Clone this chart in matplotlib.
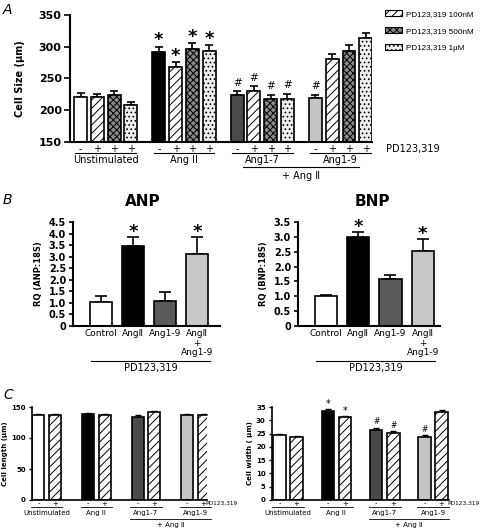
import numpy as np
import matplotlib.pyplot as plt
from matplotlib.patches import Patch
from matplotlib.lines import Line2D

# ---- data -------------------------------------------------------------
groups_a = ["Unstimulated", "Ang II", "Ang1-7", "Ang1-9"]
signs_a = ["-", "+", "+", "+"]
legend_a = ["PD123,319 100nM", "PD123,319 500nM", "PD123,319 1µM"]
cell_size = [[221, 221, 224, 208],
             [291, 268, 296, 294],
             [224, 231, 217, 218],
             [220, 281, 294, 313]]
cell_size_err = [[6, 5, 6.5, 5],
                 [9, 8, 10, 8],
                 [6, 7, 7, 8],
                 [4, 8, 9, 8]]
star_a = [[0, 0, 0, 0], [1, 1, 1, 1], [0, 0, 0, 0], [0, 0, 0, 0]]
hash_a = [[0, 0, 0, 0], [0, 0, 0, 0], [1, 1, 1, 1], [1, 0, 0, 0]]

cats_b = ["Control", "AngⅡ", "Ang1-9", "AngⅡ\n+\nAng1-9"]
anp = [1.02, 3.45, 1.09, 3.13]
anp_err = [0.26, 0.38, 0.36, 0.73]
bnp = [1.01, 2.98, 1.57, 2.53]
bnp_err = [0.04, 0.20, 0.16, 0.40]
star_b = [0, 1, 0, 1]
anp_ticks = [0, 0.5, 1.0, 1.5, 2.0, 2.5, 3.0, 3.5, 4.0, 4.5]
anp_ticklabels = ["0", "0.5", "1.0", "1.5", "2.0", "2.5", "3.0", "3.5", "4.0", "4.5"]
bnp_ticks = [0, 0.5, 1.0, 1.5, 2.0, 2.5, 3.0, 3.5]
bnp_ticklabels = ["0", "0.5", "1.0", "1.5", "2.0", "2.5", "3.0", "3.5"]

groups_c = ["Unstimulated", "Ang II", "Ang1-7", "Ang1-9"]
signs_c = ["-", "+"]
cell_length = [[137.5, 136.5], [138, 136.5], [134.5, 141.5], [136.5, 136.5]]
cell_length_err = [[2, 2], [2, 2], [2.5, 2], [2, 2]]
cell_width = [[24.4, 23.6], [33.5, 31.2], [26.5, 25.2], [23.8, 33.2]]
cell_width_err = [[0.6, 0.5], [0.6, 0.5], [0.7, 0.6], [0.5, 0.6]]
star_length = [[0, 0], [0, 0], [0, 0], [0, 0]]
hash_length = [[0, 0], [0, 0], [0, 0], [0, 0]]
star_width = [[0, 0], [1, 1], [0, 0], [0, 0]]
hash_width = [[0, 0], [0, 0], [1, 1], [1, 0]]

# ---- styles -----------------------------------------------------------
W, H = 480, 530
first_colors = ["white", "black", "#4a4a4a", "#c4c4c4"]
treat_styles = [dict(facecolor="white", hatch="////"),
                dict(facecolor="#8a8a8a", hatch="xxxxx"),
                dict(facecolor="#eeeeee", hatch="....")]
plt.rcParams["hatch.linewidth"] = 0.7
plt.rcParams["font.family"] = ["DejaVu Sans"]


def px_axes(fig, left, top, right, bottom):
    return fig.add_axes([left / W, 1 - bottom / H, (right - left) / W, (bottom - top) / H])


def style_axes(ax, lw=1.5, labelsize=8, ticklen=4):
    for s in ["top", "right"]:
        ax.spines[s].set_visible(False)
    for s in ["left", "bottom"]:
        ax.spines[s].set_linewidth(lw)
    ax.set_xticks([])
    ax.tick_params(axis="y", direction="out", length=ticklen, width=lw * 0.8,
                   labelsize=labelsize, pad=2)
    for lbl in ax.get_yticklabels():
        lbl.set_fontweight("bold")


def up_err(ax, x, y, e, cap=3, lw=1.2):
    ax.errorbar(x, y, yerr=[np.zeros(len(e)), e], fmt="none", ecolor="black",
                elinewidth=lw, capsize=cap, capthick=lw, zorder=1)


def mark(ax, x, y, s, size, off):
    ax.annotate(s, (x, y), xytext=(0, off), textcoords="offset points",
                ha="center", va="baseline", fontsize=size, fontweight="bold",
                annotation_clip=False)


def yf(py, top, bottom):
    return (bottom - py) / (bottom - top)


fig = plt.figure(figsize=(W / 100, H / 100), dpi=100)

# ---- panel A ----------------------------------------------------------
t, b = 15, 142
axA = px_axes(fig, 70, t, 372, b)
gap_a = 4.66
for g in range(4):
    xs = g * gap_a + np.arange(4)
    for i in range(4):
        st = dict(facecolor=first_colors[g]) if i == 0 else treat_styles[i - 1]
        axA.bar(xs[i], cell_size[g][i], width=0.77, edgecolor="black",
                linewidth=1.2, zorder=2, **st)
    up_err(axA, xs, cell_size[g], cell_size_err[g])
    for i in range(4):
        top_v = cell_size[g][i] + cell_size_err[g][i]
        if star_a[g][i]:
            mark(axA, xs[i], top_v, "*", 13, 1)
        if hash_a[g][i]:
            axA.annotate("#", (xs[i], top_v), xytext=(0, 4), textcoords="offset points",
                         ha="center", va="baseline", fontsize=7.5)
axA.set_xlim(-0.625, 17.35)
axA.set_ylim(150, 350)
axA.set_yticks([150, 200, 250, 300, 350])
style_axes(axA)
axA.set_ylabel("Cell Size (µm)", fontsize=7, fontweight="bold", labelpad=10)

tr = axA.get_xaxis_transform()
for g in range(4):
    xs = g * gap_a + np.arange(4)
    for i in range(4):
        axA.text(xs[i], yf(149, t, b), signs_a[i], transform=tr, ha="center",
                 va="center", fontsize=7)
    axA.add_line(Line2D([xs[0] - 0.3, xs[3] + 0.3], [yf(153.5, t, b)] * 2,
                        transform=tr, color="black", lw=0.8, clip_on=False))
    axA.text(xs.mean(), yf(160, t, b), groups_a[g], transform=tr, ha="center",
             va="center", fontsize=7)
axA.add_line(Line2D([2 * gap_a + 0.35, 3 * gap_a + 2.6], [yf(167, t, b)] * 2,
                    transform=tr, color="black", lw=0.8, clip_on=False))
axA.text(2.5 * gap_a + 1.5, yf(176, t, b), "+ Ang Ⅱ", transform=tr,
         ha="center", va="center", fontsize=7)
axA.text(18.2, yf(149, t, b), "PD123,319", transform=tr, ha="left",
         va="center", fontsize=7)

handles = [Patch(edgecolor="black", linewidth=0.8, label=legend_a[k], **treat_styles[k])
           for k in range(3)]
fig.legend(handles=handles, loc="upper left", bbox_to_anchor=(385 / W, 1 - 10 / H),
           frameon=False, prop={"family": "Liberation Sans", "size": 5.9},
           handlelength=2.1, handleheight=0.8, handletextpad=0.5,
           labelspacing=1.1, borderaxespad=0, borderpad=0)

fig.text(3 / W, 1 - 3 / H, "A", fontsize=10, fontstyle="italic", va="top")
fig.text(3 / W, 1 - 193 / H, "B", fontsize=10, fontstyle="italic", va="top")
fig.text(3 / W, 1 - 388 / H, "C", fontsize=10, fontstyle="italic", va="top")

# ---- panel B ----------------------------------------------------------
b_colors = ["white", "black", "#5a5a5a", "#c8c8c8"]


def panel_b(left, right, xlim, vals, errs, ticks, ticklabels, ylabel, title, title_x):
    t, b = 222, 326
    ax = px_axes(fig, left, t, right, b)
    x = np.arange(4)
    ax.bar(x, vals, width=0.69, color=b_colors, edgecolor="black",
           linewidth=1.2, zorder=2)
    up_err(ax, x, vals, errs, cap=4)
    for i in range(4):
        if star_b[i]:
            mark(ax, x[i], vals[i] + errs[i], "*", 13, 0)
    ax.set_xlim(*xlim)
    ax.set_ylim(0, ticks[-1])
    ax.set_yticks(ticks)
    ax.set_yticklabels(ticklabels)
    style_axes(ax, labelsize=7, ticklen=3)
    ax.set_ylabel(ylabel, fontsize=6, fontweight="bold", labelpad=4)
    trb = ax.get_xaxis_transform()
    for i in range(4):
        ax.text(x[i], yf(329, t, b), cats_b[i], transform=trb, ha="center",
                va="top", fontsize=6.5, linespacing=1.1)
    ax.add_line(Line2D([-0.3, 3.4], [yf(361, t, b)] * 2, transform=trb,
                       color="black", lw=0.8, clip_on=False))
    ax.text(1.55, yf(368.5, t, b), "PD123,319", transform=trb, ha="center",
            va="center", fontsize=7)
    fig.text(title_x / W, 1 - 202 / H, title, ha="center", va="center",
             fontsize=11, fontweight="bold")


panel_b(73, 220, (-0.875, 3.72), anp, anp_err, anp_ticks, anp_ticklabels,
        "RQ (ANP:18S)", "ANP", 143)
panel_b(298, 440, (-0.87, 3.54), bnp, bnp_err, bnp_ticks, bnp_ticklabels,
        "RQ (BNP:18S)", "BNP", 372)

# ---- panel C ----------------------------------------------------------


def panel_c(left, right, xlim, gap, vals, errs, yticks, ylabel, stars, hashes):
    t, b = 407, 500
    ax = px_axes(fig, left, t, right, b)
    for g in range(4):
        xs = g * gap + np.arange(2)
        ax.bar(xs[0], vals[g][0], width=0.73, facecolor=first_colors[g],
               edgecolor="black", linewidth=1.2, zorder=2)
        ax.bar(xs[1], vals[g][1], width=0.73, edgecolor="black", linewidth=1.2,
               zorder=2, **treat_styles[0])
        up_err(ax, xs, vals[g], errs[g], cap=2.5, lw=1.0)
        for i in range(2):
            top_v = vals[g][i] + errs[g][i]
            if stars[g][i]:
                ax.annotate("*", (xs[i], top_v), xytext=(0, 1.5),
                            textcoords="offset points", ha="center",
                            va="baseline", fontsize=7)
            if hashes[g][i]:
                ax.annotate("#", (xs[i], top_v), xytext=(0, 2.5),
                            textcoords="offset points", ha="center",
                            va="baseline", fontsize=5.5)
    ax.set_xlim(*xlim)
    ax.set_ylim(0, yticks[-1])
    ax.set_yticks(yticks)
    style_axes(ax, lw=1.2, labelsize=5, ticklen=2.5)
    ax.set_ylabel(ylabel, fontsize=5, fontweight="bold", labelpad=2)
    trc = ax.get_xaxis_transform()
    for g in range(4):
        xs = g * gap + np.arange(2)
        for i in range(2):
            ax.text(xs[i], yf(503.5, t, b), signs_c[i], transform=trc,
                    ha="center", va="center", fontsize=5)
        ax.add_line(Line2D([xs[0] - 0.45, xs[1] + 0.45], [yf(507, t, b)] * 2,
                           transform=trc, color="black", lw=0.6, clip_on=False))
        ax.text(xs.mean(), yf(513, t, b), groups_c[g], transform=trc,
                ha="center", va="center", fontsize=5)
    ax.add_line(Line2D([2 * gap - 0.45, 3 * gap + 1.45], [yf(518.5, t, b)] * 2,
                       transform=trc, color="black", lw=0.6, clip_on=False))
    ax.text(2.5 * gap + 0.5, yf(525.5, t, b), "+ Ang Ⅱ", transform=trc,
            ha="center", va="center", fontsize=5)
    ax.text(xlim[1] - 0.1, yf(503.5, t, b), "PD123,319", transform=trc,
            ha="left", va="center", fontsize=4.2)


panel_c(32, 207, (-0.39, 10.2), 3.0, cell_length, cell_length_err,
        [0, 50, 100, 150], "Cell length (µm)", star_length, hash_length)
panel_c(272, 449, (-0.44, 9.95), 2.84, cell_width, cell_width_err,
        [0, 5, 10, 15, 20, 25, 30, 35], "Cell width ( µm)", star_width, hash_width)

fig.savefig("out.png", dpi=100)
